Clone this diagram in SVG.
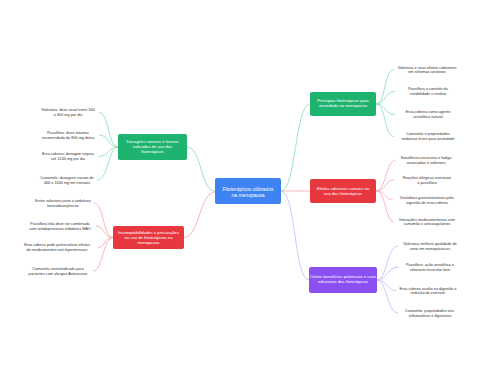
<svg xmlns="http://www.w3.org/2000/svg" width="480" height="384" viewBox="0 0 480 384">
<style>
.leaf{font-family:"Liberation Sans",Arial,sans-serif;font-size:3.8px;fill:#333;text-anchor:middle}
.nt{font-family:"Liberation Sans",Arial,sans-serif;font-size:4.2px;fill:#fff;text-anchor:middle}
.ct{font-family:"Liberation Sans",Arial,sans-serif;font-size:5px;fill:#fff;text-anchor:middle}
.cg{fill:none;stroke:#86dcb6;stroke-width:0.8}
.cr{fill:none;stroke:#f6a5ac;stroke-width:0.8}
.cp{fill:none;stroke:#c8b6f8;stroke-width:0.8}
</style>
<rect width="480" height="384" fill="#fff"/>
<g id="connectors">
<path class="cg" d="M215,191 C200,191 202,147 187,147"/>
<path class="cr" d="M215,192 C200,192 199,237.5 184,237.5"/>
<path class="cg" d="M281,191 C296,191 295,104 310,104"/>
<path class="cr" d="M281,191 C296,191 295,191 310,191"/>
<path class="cp" d="M281,191 C296,191 294,280 309,280"/>
<path class="cg" d="M118,147 C108,147 109,112.5 99,112.5"/>
<path class="cg" d="M118,147 C108,147 109,135 99,135"/>
<path class="cg" d="M118,147 C108,147 109,156.5 98,156.5"/>
<path class="cg" d="M118,147 C108,147 109,180 97,180"/>
<path class="cr" d="M113,237.5 C103,237.5 104,203 94,203"/>
<path class="cr" d="M113,237.5 C103,237.5 105,226 96,226"/>
<path class="cr" d="M113,237.5 C103,237.5 106,247.5 98,247.5"/>
<path class="cr" d="M113,237.5 C103,237.5 103,271 93,271"/>
<path class="cg" d="M376,104 C386,104 384,69.5 394,69.5"/>
<path class="cg" d="M376,104 C386,104 384,91.5 395,91.5"/>
<path class="cg" d="M376,104 C386,104 384,114.5 395,114.5"/>
<path class="cg" d="M376,104 C386,104 384,136.5 394,136.5"/>
<path class="cr" d="M376,191 C386,191 386,160 396,160"/>
<path class="cr" d="M376,191 C386,191 385,180 394,180"/>
<path class="cr" d="M376,191 C386,191 385,200 393,200"/>
<path class="cr" d="M376,191 C386,191 385,221.7 394,221.7"/>
<path class="cp" d="M377,280 C387,280 387,246 398,246"/>
<path class="cp" d="M377,280 C387,280 387,267 399,267"/>
<path class="cp" d="M377,280 C387,280 387,290.5 396,290.5"/>
<path class="cp" d="M377,280 C387,280 387,313 398,313"/>
</g>
<g id="center">
<rect x="215" y="178" width="66" height="26" rx="2" fill="#3d84f2"/>
<text class="ct" x="248" y="190.5">Fitoterápicos utilizados</text>
<text class="ct" x="248" y="197">na menopausa</text>
</g>
<g id="n-dosagens">
<rect x="118" y="134" width="69" height="26" rx="2" fill="#1fb370"/>
<text class="nt" x="152.5" y="142.5">Dosagens comuns e formas</text>
<text class="nt" x="152.5" y="147.8">indicadas de uso dos</text>
<text class="nt" x="152.5" y="153">fitoterápicos</text>
</g>
<g id="n-precaucoes">
<rect x="113" y="226" width="71" height="23" rx="2" fill="#e8383f"/>
<text class="nt" x="148.5" y="233.5">Incompatibilidades e precauções</text>
<text class="nt" x="148.5" y="238.8">no uso de fitoterápicos na</text>
<text class="nt" x="148.5" y="244">menopausa</text>
</g>
<g id="n-ansiedade">
<rect x="310" y="92" width="66" height="24" rx="2" fill="#1fb370"/>
<text class="nt" x="343" y="102">Principais fitoterápicos para</text>
<text class="nt" x="343" y="107.3">ansiedade na menopausa</text>
</g>
<g id="n-adversos">
<rect x="310" y="179" width="66" height="24" rx="2" fill="#e8383f"/>
<text class="nt" x="343" y="190.3">Efeitos adversos comuns no</text>
<text class="nt" x="343" y="195.3">uso dos fitoterápicos</text>
</g>
<g id="n-beneficios">
<rect x="309" y="267" width="68" height="26" rx="2" fill="#8a50f2"/>
<text class="nt" x="343" y="278">Outros benefícios potenciais e usos</text>
<text class="nt" x="343" y="283">adicionais dos fitoterápicos</text>
</g>
<g id="l-dos-1"><text class="leaf" x="68" y="111.2">Valeriana: dose usual entre 300</text><text class="leaf" x="68" y="116.2">a 600 mg por dia</text></g>
<g id="l-dos-2"><text class="leaf" x="68" y="133.5">Passiflora: dose máxima</text><text class="leaf" x="68" y="138.7">recomendada de 800 mg diária</text></g>
<g id="l-dos-3"><text class="leaf" x="68" y="155.2">Erva-cidreira: dosagem segura</text><text class="leaf" x="68" y="160.2">até 1200 mg por dia</text></g>
<g id="l-dos-4"><text class="leaf" x="67" y="179">Camomila: dosagens variam de</text><text class="leaf" x="67" y="184">400 a 1600 mg em extratos</text></g>
<g id="l-pre-1"><text class="leaf" x="63" y="202">Evitar valeriana junto a sedativos</text><text class="leaf" x="63" y="207">benzodiazepínicos</text></g>
<g id="l-pre-2"><text class="leaf" x="60" y="224.5">Passiflora não deve ser combinada</text><text class="leaf" x="60" y="229.8">com antidepressivos inibidores MAO</text></g>
<g id="l-pre-3"><text class="leaf" x="57" y="246">Erva-cidreira pode potencializar efeitos</text><text class="leaf" x="57" y="251">de medicamentos anti-hipertensivos</text></g>
<g id="l-pre-4"><text class="leaf" x="58" y="269.5">Camomila contraindicada para</text><text class="leaf" x="58" y="274.5">pacientes com alergias Asteraceae</text></g>
<g id="l-ans-1"><text class="leaf" x="427" y="68.5">Valeriana e seus efeitos calmantes</text><text class="leaf" x="427" y="73">em sintomas ansiosos</text></g>
<g id="l-ans-2"><text class="leaf" x="428" y="90.2">Passiflora e controle da</text><text class="leaf" x="428" y="95">irritabilidade e insônia</text></g>
<g id="l-ans-3"><text class="leaf" x="428" y="113.2">Erva-cidreira como agente</text><text class="leaf" x="428" y="118">ansiolítico natural</text></g>
<g id="l-ans-4"><text class="leaf" x="428" y="135.2">Camomila e propriedades</text><text class="leaf" x="428" y="140">sedativas leves para ansiedade</text></g>
<g id="l-adv-1"><text class="leaf" x="426" y="159">Sonolência excessiva e fadiga</text><text class="leaf" x="426" y="163.5">associadas à valeriana</text></g>
<g id="l-adv-2"><text class="leaf" x="427" y="179">Reações alérgicas eventuais</text><text class="leaf" x="427" y="183.5">à passiflora</text></g>
<g id="l-adv-3"><text class="leaf" x="427" y="199">Distúrbios gastrointestinais pela</text><text class="leaf" x="427" y="203.5">ingestão de erva-cidreira</text></g>
<g id="l-adv-4"><text class="leaf" x="427" y="220.5">Interações medicamentosas com</text><text class="leaf" x="427" y="225.3">camomila e anticoagulantes</text></g>
<g id="l-ben-1"><text class="leaf" x="430" y="244.5">Valeriana melhora qualidade do</text><text class="leaf" x="430" y="249.5">sono em menopáusicas</text></g>
<g id="l-ben-2"><text class="leaf" x="430" y="265.5">Passiflora: ação ansiolítica e</text><text class="leaf" x="430" y="270.5">relaxante muscular leve</text></g>
<g id="l-ben-3"><text class="leaf" x="428" y="289.5">Erva-cidreira auxilia na digestão e</text><text class="leaf" x="428" y="294.2">redução de estresse</text></g>
<g id="l-ben-4"><text class="leaf" x="430" y="311.5">Camomila: propriedades anti-</text><text class="leaf" x="430" y="316.5">inflamatórias e digestivas</text></g>
</svg>
